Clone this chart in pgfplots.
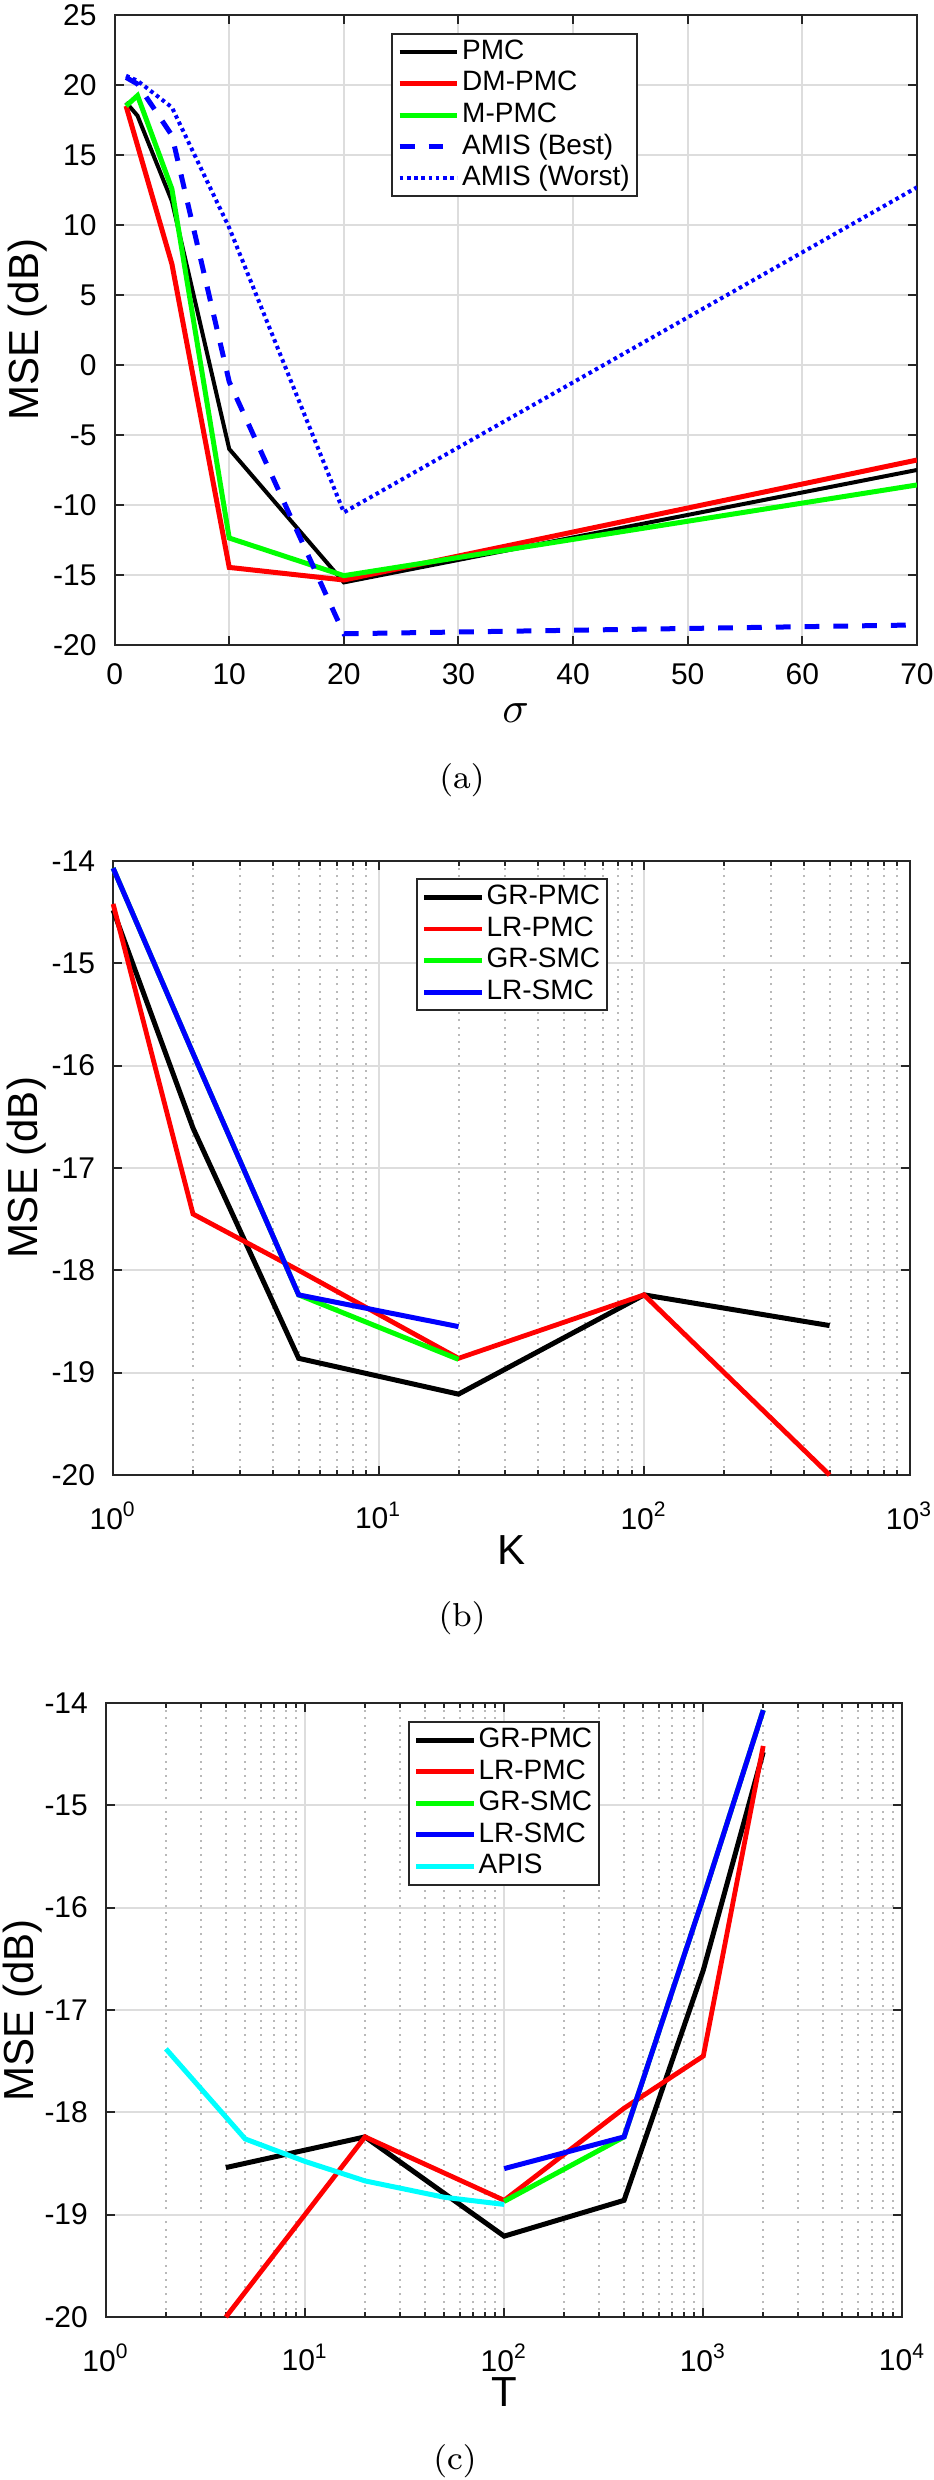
\documentclass[border=0pt]{standalone}
\usepackage{pgfplots}
\pgfplotsset{compat=1.18}
\usepackage{fontspec}
\newfontfamily\hv{Liberation Sans}
\definecolor{gridc}{RGB}{221,221,221}
\definecolor{mgridc}{RGB}{185,185,185}
\definecolor{axc}{RGB}{38,38,38}
\definecolor{mred}{RGB}{255,0,0}
\definecolor{mgreen}{RGB}{0,255,0}
\definecolor{mblue}{RGB}{0,0,255}
\definecolor{mcyan}{RGB}{0,255,255}
\pgfplotsset{
  mat/.style={
    scale only axis,
    axis line style={draw=axc, line width=0.5pt},
    every tick/.style={draw=axc, line width=0.5pt},
    major tick length=2.25pt, minor tick length=1.25pt,
    xtick pos=both, ytick pos=both, tick align=inside,
    xmajorgrids=true, ymajorgrids=true,
    major grid style={draw=gridc, line width=0.5pt},
    /pgf/number format/assume math mode=true,
    ticklabel style={font=\hv\fontsize{7.5}{8}\selectfont},
    yticklabel style={xshift=-1pt},
    xticklabel style={yshift=-1.2pt},
    label style={font=\hv\fontsize{10.5}{12}\selectfont},
    ylabel style={anchor=center},
    xlabel style={anchor=center},
    legend cell align=left,
    legend image code/.code={\draw[##1] (0pt,0pt) -- (14.4pt,0pt);},
    legend style={anchor=north west, draw=axc, line width=0.5pt,
      font=\hv\fontsize{7}{7.9}\selectfont,
      inner xsep=1.2pt, inner ysep=0.6pt, row sep=0pt,
      nodes={inner xsep=0.6pt, inner ysep=0.5pt, text height=5.3pt, text depth=1.6pt}},
  },
  logmat/.style={
    mat, xminorgrids=true,
    minor grid style={draw=mgridc, line width=0.5pt, dash pattern=on 0.5pt off 1.3pt},
    xticklabel style={yshift=-2.1pt},
    clip=false,
  }
}
\begin{document}
\begin{tikzpicture}
% ---------------- (a)
\begin{axis}[mat,
  at={(28.65pt,458.75pt)}, anchor=south west,
  width=200.6pt, height=157.5pt,
  xmin=0, xmax=70, ymin=-20, ymax=25,
  xtick={0,10,20,30,40,50,60,70},
  ytick={-20,-15,-10,-5,0,5,10,15,20,25},
  xlabel={$\sigma$}, ylabel={MSE (dB)},
  xlabel style={at={(axis description cs:0.5,-0.108)}, font=\fontsize{11}{12}\selectfont},
  ylabel style={at={(axis description cs:-0.109,0.5)}},
  legend style={at={(0.345,0.972)}},
]
\addplot[black, line width=1pt] coordinates {(1,18.76) (2,17.8) (5,11.7) (10,-6.0) (20,-15.53) (70,-7.5)};
\addlegendentry{PMC}
\addplot[mred, line width=1.25pt] coordinates {(1,18.5) (5,7.21) (10,-14.46) (20,-15.36) (70,-6.79)};
\addlegendentry{DM-PMC}
\addplot[mgreen, line width=1.25pt] coordinates {(1,18.5) (2,19.24) (5,12.57) (10,-12.36) (20,-15.05) (70,-8.57)};
\addlegendentry{M-PMC}
\addplot[mblue, line width=1.25pt, dash pattern=on 3.7pt off 3.5pt] coordinates {(1,20.54) (2,20.07) (5,16.4) (10,-1.2) (20,-19.2) (70,-18.57)};
\addlegendentry{AMIS (Best)}
\addplot[mblue, line width=1pt, dash pattern=on 0.9pt off 0.9pt] coordinates {(1,20.66) (2,20.3) (5,18.4) (10,9.8) (20,-10.53) (70,12.69)};
\addlegendentry{AMIS (Worst)}
\end{axis}
% ---------------- (b)
\begin{semilogxaxis}[logmat,
  at={(28.28pt,251.25pt)}, anchor=south west,
  width=199.1pt, height=153.5pt,
  xmin=1, xmax=1000, ymin=-20, ymax=-14,
  xtick={1,10,100,1000},
  xticklabels={10\textsuperscript{0},10\textsuperscript{1},10\textsuperscript{2},10\textsuperscript{3}},
  ytick={-20,-19,-18,-17,-16,-15,-14},
  xlabel={K}, ylabel={MSE (dB)},
  xlabel style={at={(axis description cs:0.5,-0.123)}},
  ylabel style={at={(axis description cs:-0.108,0.5)}},
  legend style={at={(0.380,0.972)}},
]
\addplot[black, line width=1.25pt] coordinates {(1,-14.48) (2,-16.61) (5,-18.86) (20,-19.21) (100,-18.24) (500,-18.54)};
\addlegendentry{GR-PMC}
\addplot[mred, line width=1.2pt] coordinates {(1,-14.42) (2,-17.45) (5,-18.0) (20,-18.86) (100,-18.24) (500,-20.0)};
\addlegendentry{LR-PMC}
\addplot[mgreen, line width=1.25pt] coordinates {(1,-14.07) (2,-15.88) (5,-18.24) (20,-18.87)};
\addlegendentry{GR-SMC}
\addplot[mblue, line width=1.25pt] coordinates {(1,-14.07) (2,-15.88) (5,-18.24) (20,-18.55)};
\addlegendentry{LR-SMC}
\end{semilogxaxis}
% ---------------- (c)
\begin{semilogxaxis}[logmat,
  at={(26.5pt,40.75pt)}, anchor=south west,
  width=199.1pt, height=153.5pt,
  xmin=1, xmax=10000, ymin=-20, ymax=-14,
  xtick={1,10,100,1000,10000},
  xticklabels={10\textsuperscript{0},10\textsuperscript{1},10\textsuperscript{2},10\textsuperscript{3},10\textsuperscript{4}},
  ytick={-20,-19,-18,-17,-16,-15,-14},
  xlabel={T}, ylabel={MSE (dB)},
  xlabel style={at={(axis description cs:0.5,-0.123)}},
  ylabel style={at={(axis description cs:-0.105,0.5)}},
  legend style={at={(0.379,0.971)}},
]
\addplot[black, line width=1.25pt] coordinates {(4,-18.54) (20,-18.24) (100,-19.21) (400,-18.86) (1000,-16.61) (2000,-14.48)};
\addlegendentry{GR-PMC}
\addplot[mred, line width=1.2pt] coordinates {(4,-20.0) (20,-18.24) (100,-18.86) (400,-17.96) (1000,-17.45) (2000,-14.42)};
\addlegendentry{LR-PMC}
\addplot[mgreen, line width=1.25pt] coordinates {(100,-18.87) (400,-18.24) (1000,-15.9) (2000,-14.07)};
\addlegendentry{GR-SMC}
\addplot[mblue, line width=1.25pt] coordinates {(100,-18.55) (400,-18.24) (1000,-15.9) (2000,-14.07)};
\addlegendentry{LR-SMC}
\addplot[mcyan, line width=1.25pt] coordinates {(2,-17.38) (5,-18.26) (10,-18.48) (20,-18.67) (50,-18.83) (100,-18.9)};
\addlegendentry{APIS}
\end{semilogxaxis}
% captions
\node[font=\fontsize{8.3}{10}\selectfont] at (115.5pt,425pt) {(a)};
\node[font=\fontsize{8.3}{10}\selectfont] at (115.5pt,215.5pt) {(b)};
\node[font=\fontsize{8.3}{10}\selectfont] at (113.75pt,4.75pt) {(c)};
\pgfresetboundingbox
\path[use as bounding box] (0pt,0pt) rectangle (233.25pt,620pt);
\end{tikzpicture}
\end{document}
